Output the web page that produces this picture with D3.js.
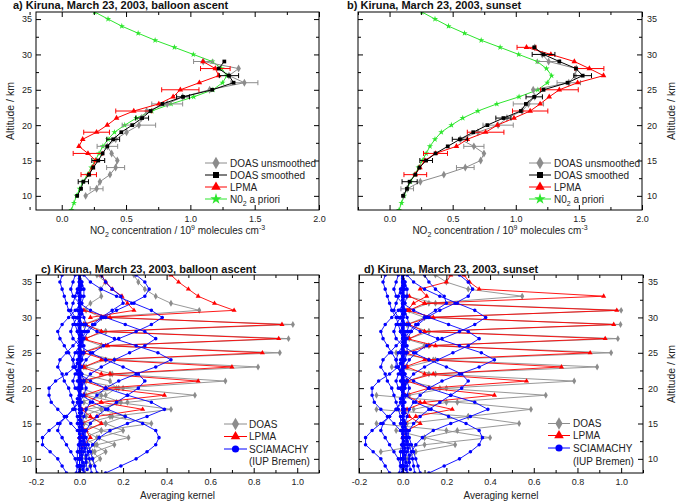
<!DOCTYPE html>
<html>
<head>
<meta charset="utf-8">
<script src="https://cdn.jsdelivr.net/npm/d3@7/dist/d3.min.js"></script>
<style>
  body { margin: 0; background: #fff; }
  svg { display: block; font-family: Arial, "Liberation Sans", Helvetica, sans-serif; }
</style>
</head>
<body>
<svg id="chart" width="682" height="501"></svg>
<script>
// ---------- profiles, panels a and b (altitude km, NO2 in 1e9 molec/cm3) ----------
const aprioriAlt = [36,35,34,33,32,31,30,29,28,27,26,25,24,23,22,21,20,19,18,17,16,15,14,13,12,11,10,9,8];
const aprioriNO2 = [0.256,0.36,0.467,0.594,0.726,0.876,1.023,1.17,1.243,1.284,1.25,1.175,1.026,0.85,0.70,0.58,0.49,0.41,0.36,0.32,0.29,0.26,0.23,0.2,0.165,0.14,0.115,0.095,0.075];

// a) balloon ascent
const altA29 = [29,28,27,26,25,24,23,22,21,20,19,18,17,16,15,14,13,12,11,10];
const smoothA = [1.264,1.22,1.30,1.336,1.17,0.943,0.783,0.69,0.625,0.548,0.463,0.40,0.354,0.318,0.284,0.245,0.212,0.168,0.15,0.12];
const smoothErrA = [0,0,0.075,0,0,0.05,0,0,0.05,0,0,0.05,0,0,0.05,0,0,0.04,0,0];
const unsmoothA = [1.10,1.375,1.30,1.42,1.15,0.94,0.82,0.66,0.62,0.60,0.504,0.42,0.355,0.388,0.432,0.419,0.375,0.297,0.271,0.186];
const unsmoothErrA = [0.075,0,0,0.105,0,0,0.12,0,0,0.13,0,0,0.08,0,0,0.07,0,0,0.05,0];
const lpmaAltA = [29,28,27,26,25,24,23,22,21,20,19,18,17,16,15,14,13];
const lpmaA = [1.098,1.194,1.22,1.07,0.922,0.866,0.755,0.56,0.426,0.354,0.271,0.163,0.134,0.204,0.264,0.24,0.21];
const lpmaErrA = [0,0.115,0,0,0.145,0,0,0.14,0,0,0.10,0,0,0.115,0,0,0.06];

// b) sunset
const altB31 = [31,30,29,28,27,26,25,24,23,22,21,20,19,18,17,16,15,14,13,12,11,10];
const smoothB = [1.146,1.22,1.345,1.477,1.53,1.41,1.22,1.146,1.08,1.04,0.902,0.775,0.663,0.557,0.461,0.364,0.29,0.236,0.204,0.159,0.138,0.107];
const smoothErrB = [0,0.09,0,0,0.07,0,0,0.065,0,0,0.06,0,0,0.06,0,0,0.05,0,0,0.06,0,0];
const unsmoothB = [1.15,1.21,1.26,1.48,1.47,1.42,1.138,1.15,1.10,1.05,0.93,0.86,0.70,0.56,0.668,0.748,0.722,0.60,0.43,0.244,0.14,0.11];
const unsmoothErrB = [0,0,0.09,0,0,0.093,0,0,0.12,0,0,0.12,0,0,0.08,0,0,0.07,0,0,0.05,0];
const lpmaAltB = [31,30,29,28,27,26,25,24,23,22,21,20,19,18,17,16,15,14,13];
const lpmaB = [1.085,1.278,1.464,1.583,1.695,1.49,1.345,1.265,1.193,1.114,0.986,0.854,0.761,0.616,0.53,0.364,0.28,0.24,0.204];
const lpmaErrB = [0.075,0,0,0.115,0,0,0.15,0,0,0.14,0,0,0.145,0,0,0.095,0,0,0.09];

// ---------- averaging kernels, panels c and d: [first altitude, values every 1 km] ----------
const doasKernC = [
  [7,[0.0,0.02,0.05,0.03,0.01]],
  [8,[0.02,0.05,0.095,0.06,0.02]],
  [9,[0.02,0.06,0.12,0.07,0.02]],
  [10,[0.01,0.07,0.16,0.08,0.02]],
  [11,[0.0,0.08,0.225,0.1,0.02]],
  [12,[0.01,0.09,0.2,0.12,0.03]],
  [13,[0.02,0.1,0.33,0.14,0.03]],
  [14,[0.0,0.12,0.21,0.1,0.02]],
  [15,[0.02,0.15,0.42,0.17,0.03]],
  [16,[0.01,0.1,0.19,0.1,0.0]],
  [17,[0.03,0.22,0.53,0.2,0.02]],
  [18,[0.0,0.12,0.17,0.14,0.01]],
  [19,[0.02,0.18,0.67,0.15,0.03]],
  [21,[0.03,0.14,0.82,0.16,0.02]],
  [23,[0.02,0.12,0.92,0.1,0.01]],
  [25,[0.01,0.1,0.96,0.12,0.02]],
  [27,[0.02,0.12,0.98,0.1,0.03]],
  [29,[0.02,0.1,0.55,0.42,0.35,0.3,0.27,0.25]],
  [31,[0.01,0.05,0.1,0.095,0.12,0.08]]
];
const lpmaKernC = [
  [11,[0.0,0.02,0.05,0.03,0.0]],
  [13,[0.0,0.03,0.1,0.05,0.01]],
  [15,[0.01,0.08,0.29,0.1,0.02]],
  [17,[0.01,0.1,0.39,0.12,0.02]],
  [19,[0.02,0.12,0.545,0.1,0.01]],
  [21,[0.01,0.14,0.70,0.12,0.02]],
  [23,[0.02,0.1,0.84,0.13,0.01]],
  [25,[0.01,0.12,0.915,0.1,0.03]],
  [27,[0.03,0.1,0.93,0.14,0.02]],
  [29,[0.02,0.12,0.71,0.62,0.545,0.5,0.455,0.42]],
  [30,[0.05,0.25,0.22,0.195,0.15,0.12,0.1]]
];
const doasKernD = [
  [10,[0.02,0.06,0.24,0.1,-0.03]],
  [11,[-0.1,0.1,0.40,0.2,-0.12]],
  [13,[0.1,0.25,0.533,0.3,-0.12]],
  [15,[0.02,0.3,0.587,0.25,-0.12]],
  [17,[0.05,0.2,0.655,0.17,0.02]],
  [19,[0.03,0.2,0.785,0.15,-0.05]],
  [21,[0.02,0.12,0.89,0.14,-0.03]],
  [23,[0.02,0.15,0.954,0.12,0.01]],
  [25,[0.01,0.1,0.985,0.12,0.02]],
  [27,[0.03,0.12,0.997,0.1,0.01]],
  [29,[0.02,0.1,1.0,0.15,0.02]],
  [31,[0.03,0.12,0.547,0.3,0.2,0.15]]
];
const lpmaKernD = [
  [13,[0.0,0.02,0.08,0.03,0.0]],
  [15,[0.01,0.06,0.227,0.08,0.01]],
  [17,[0.02,0.1,0.42,0.12,0.02]],
  [19,[0.01,0.12,0.567,0.1,0.02]],
  [21,[0.02,0.14,0.727,0.12,0.01]],
  [23,[0.01,0.1,0.858,0.15,0.02]],
  [25,[0.02,0.12,0.927,0.1,0.03]],
  [27,[0.03,0.1,0.966,0.14,0.02]],
  [29,[0.02,0.12,0.98,0.1,0.03]],
  [31,[0.03,0.1,0.92,0.35,0.306,0.28]],
  [31,[0.02,0.05,0.11,0.08,0.2,0.22]]
];
// SCIAMACHY (IUP Bremen) kernels, same set shown in c and d
const sciaKern = [
  [8,[-0.06,-0.08,-0.10,-0.135,-0.17,-0.17,-0.14,-0.10,-0.06,-0.03,-0.01,0.00,0.01,0.01,0.00,0.00,-0.01,0.00,0.00,0.01,0.00,0.00,0.00,0.00,0.00,0.00,0.00,0.00,0.00]],
  [8,[0.12,0.19,0.26,0.31,0.35,0.365,0.35,0.29,0.21,0.13,0.06,0.01,-0.02,-0.03,-0.02,0.00,0.01,0.01,0.00,0.00,0.00,0.00,0.00,0.00,0.00,0.00,0.00,0.00,0.00]],
  [8,[0.02,0.02,0.03,0.04,0.06,0.09,0.14,0.22,0.31,0.39,0.33,0.22,0.12,0.05,0.00,-0.03,-0.03,-0.02,0.00,0.01,0.01,0.00,0.00,0.01,0.00,0.00,0.00,0.00,0.00]],
  [8,[0.00,0.01,0.01,0.02,0.02,0.01,-0.01,-0.04,-0.07,-0.10,-0.13,-0.14,-0.14,-0.11,-0.06,-0.02,0.01,0.02,0.02,0.01,0.00,0.00,0.00,-0.01,0.00,0.00,0.00,0.00,0.00]],
  [8,[0.00,-0.01,-0.02,-0.04,-0.06,-0.08,-0.10,-0.09,-0.06,-0.03,0.00,0.02,0.03,0.02,0.01,0.00,0.00,-0.01,0.00,0.00,0.00,0.01,0.00,0.00,0.00,0.00,0.00,0.00,0.00]],
  [8,[0.00,0.00,0.00,0.01,0.01,0.02,0.03,0.05,0.08,0.12,0.17,0.22,0.27,0.30,0.27,0.20,0.12,0.05,0.00,-0.03,-0.04,-0.03,-0.01,0.00,0.00,0.00,0.01,0.00,0.00]],
  [8,[0.00,0.00,0.00,0.00,0.00,0.00,0.01,0.01,0.02,0.03,0.05,0.08,0.12,0.18,0.26,0.35,0.42,0.36,0.26,0.16,0.08,0.02,-0.02,-0.04,-0.03,-0.02,-0.01,0.00,0.00]],
  [8,[0.00,0.00,0.00,0.00,0.00,0.00,0.00,-0.01,-0.01,-0.02,-0.03,-0.04,-0.05,-0.07,-0.08,-0.10,-0.09,-0.06,-0.03,0.00,0.02,0.03,0.02,0.01,0.00,0.00,0.00,0.00,0.00]],
  [8,[0.00,0.00,0.00,0.00,0.00,0.00,0.00,0.00,0.00,0.00,0.00,0.00,0.01,0.02,0.05,0.10,0.16,0.23,0.30,0.35,0.30,0.21,0.12,0.05,0.00,-0.03,-0.04,-0.03,-0.02]],
  [8,[0.00,0.00,0.00,0.00,0.00,0.00,0.00,0.00,0.00,0.00,0.00,0.00,0.00,0.00,-0.01,-0.02,-0.03,-0.05,-0.07,-0.09,-0.10,-0.08,-0.05,-0.02,0.01,0.02,0.02,0.01,0.00]],
  [8,[0.00,0.00,0.00,0.00,0.00,0.00,0.00,0.00,0.00,0.00,0.00,0.00,0.00,0.00,0.00,0.01,0.03,0.06,0.11,0.18,0.26,0.33,0.38,0.33,0.25,0.17,0.10,0.05,0.02]],
  [8,[0.00,0.00,0.00,0.00,0.00,0.00,0.00,0.00,0.00,0.00,0.00,0.00,0.00,0.00,0.00,0.00,0.00,0.00,0.01,0.02,0.04,0.07,0.11,0.17,0.24,0.30,0.32,0.30,0.26]],
  [8,[0.00,0.00,0.00,0.00,0.00,0.00,0.00,0.00,0.00,0.00,0.00,0.00,0.00,0.00,0.00,0.00,0.00,0.00,0.00,0.00,-0.01,-0.02,-0.03,-0.05,-0.06,-0.07,-0.08,-0.09,-0.08]],
  [8,[0.00,0.00,0.00,0.00,0.00,0.00,0.00,0.00,0.00,0.00,0.00,0.00,0.00,0.00,0.00,0.00,0.00,0.00,0.00,0.01,0.03,0.06,0.10,0.15,0.20,0.19,0.15,0.12,0.10]],
  [8,[0.08,0.07,0.06,0.05,0.04,0.03,0.02,0.01,0.00,0.00,0.01,0.00,0.00,0.00,0.01,0.00,0.00,0.00,0.00,0.01,0.00,0.00,0.00,0.00,0.00,0.01,0.00,0.00,0.00]],
  [8,[0.055,0.05,0.045,0.04,0.03,0.02,0.015,0.01,0.00,0.01,0.00,0.00,-0.01,0.00,0.00,0.00,0.01,0.00,0.00,0.00,0.00,-0.01,0.00,0.00,0.00,0.00,0.00,0.01,0.00]],
  [8.5,[0.035,0.03,0.03,0.025,0.02,0.015,0.01,0.005,0.00,0.00,-0.01,0.00,0.01,0.00,0.00,-0.01,0.00,0.00,0.01,0.00,0.00,0.00,0.01,0.00,0.00,-0.01,0.00,0.00]],
  [8,[-0.015,-0.01,-0.01,-0.01,-0.005,0.00,0.00,0.01,0.00,0.00,0.00,0.01,0.00,-0.01,0.00,0.00,0.00,0.01,0.00,0.00,-0.01,0.00,0.00,0.00,0.01,0.00,0.00,0.00,0.00]],
  [8.5,[0.015,0.015,0.01,0.01,0.005,0.00,0.00,0.00,0.01,0.00,0.00,0.00,0.00,0.00,-0.01,0.00,0.00,0.00,0.00,0.01,0.00,0.00,0.00,0.00,0.00,0.00,0.01,0.00]]
];

const altTicks = [10,15,20,25,30,35];
const altMinor = [12.5,17.5,22.5,27.5,32.5];
const concTicks = [0.0,0.5,1.0,1.5,2.0];
const concMinor = [-0.25,0.25,0.75,1.25,1.75];
const akTicks = [-0.2,0.0,0.2,0.4,0.6,0.8,1.0];
const akMinor = [-0.1,0.1,0.3,0.5,0.7,0.9,1.1];

const GRAY = "#8c8c8c", RED = "#ff0000", GREEN = "#2ee62e", BLUE = "#0000ff";

const svg = d3.select("#chart");

const panels = [
  {key:"a", l:36, r:319, t:12, b:210, xd:[-0.2,2.0], side:"left", title:"a) Kiruna, March 23, 2003, balloon ascent", tx:13, ty:9},
  {key:"b", l:358, r:642, t:12, b:210, xd:[-0.25,2.0], side:"right", title:"b) Kiruna, March 23, 2003, sunset", tx:347, ty:9},
  {key:"c", l:36, r:319, t:275, b:473, xd:[-0.2,1.1], side:"left", title:"c) Kiruna, March 23, 2003, balloon ascent", tx:41, ty:272.5},
  {key:"d", l:359, r:643, t:275, b:473, xd:[-0.2,1.1], side:"right", title:"d) Kiruna, March 23, 2003, sunset", tx:364, ty:272.5}
];

function styleAxis(g) {
  g.select(".domain").remove();
  g.selectAll(".tick line").attr("stroke", "#000");
  g.selectAll(".tick text").attr("font-size", 9).attr("fill", "#222").attr("font-family", null);
}

function drawAxes(p, x, y, major, minor) {
  const fmt = d => d.toFixed(1);
  const g = svg.append("g");
  // bottom
  g.append("g").attr("transform", `translate(0,${p.b})`)
    .call(d3.axisBottom(x).tickValues(major).tickSize(-5).tickPadding(6).tickFormat(fmt)).call(styleAxis);
  g.append("g").attr("transform", `translate(0,${p.b})`)
    .call(d3.axisBottom(x).tickValues(minor).tickSize(-3).tickFormat("")).call(styleAxis);
  // top
  g.append("g").attr("transform", `translate(0,${p.t})`)
    .call(d3.axisTop(x).tickValues(major).tickSize(-5).tickFormat("")).call(styleAxis);
  g.append("g").attr("transform", `translate(0,${p.t})`)
    .call(d3.axisTop(x).tickValues(minor).tickSize(-3).tickFormat("")).call(styleAxis);
  // left & right
  const lab = d3.format("d");
  g.append("g").attr("transform", `translate(${p.l},0)`)
    .call(d3.axisLeft(y).tickValues(altTicks).tickSize(-5).tickPadding(4).tickFormat(p.side === "left" ? lab : "")).call(styleAxis);
  g.append("g").attr("transform", `translate(${p.l},0)`)
    .call(d3.axisLeft(y).tickValues(altMinor).tickSize(-3).tickFormat("")).call(styleAxis);
  g.append("g").attr("transform", `translate(${p.r},0)`)
    .call(d3.axisRight(y).tickValues(altTicks).tickSize(-5).tickPadding(5).tickFormat(p.side === "right" ? lab : "")).call(styleAxis);
  g.append("g").attr("transform", `translate(${p.r},0)`)
    .call(d3.axisRight(y).tickValues(altMinor).tickSize(-3).tickFormat("")).call(styleAxis);
  g.append("rect").attr("x", p.l).attr("y", p.t).attr("width", p.r - p.l).attr("height", p.b - p.t)
    .attr("fill", "none").attr("stroke", "#000").attr("stroke-width", 1);

  // titles
  svg.append("text").attr("x", p.tx).attr("y", p.ty).attr("font-size", 11).attr("font-weight", "bold")
    .attr("fill", "#111").text(p.title);
  const ax = p.side === "left" ? 14 : 675;
  svg.append("text").attr("transform", `translate(${ax},${(p.t + p.b) / 2}) rotate(-90)`)
    .attr("text-anchor", "middle").attr("font-size", 10.5).attr("fill", "#222").text("Altitude / km");
}

function plotArea(p) {
  svg.append("clipPath").attr("id", "clip" + p.key)
    .append("rect").attr("x", p.l).attr("y", p.t).attr("width", p.r - p.l).attr("height", p.b - p.t);
  return svg.append("g").attr("clip-path", `url(#clip${p.key})`);
}

function profile(g, x, y, alts, vals, errs, color, sym, size) {
  const pts = alts.map((a, i) => [vals[i], a, errs ? errs[i] : 0]);
  const line = d3.line().x(d => x(d[0])).y(d => y(d[1]));
  g.append("path").datum(pts).attr("d", line).attr("fill", "none").attr("stroke", color).attr("stroke-width", 1);
  pts.filter(d => d[2] > 0).forEach(d => {
    const yy = y(d[1]), xa = x(d[0] - d[2]), xb = x(d[0] + d[2]);
    g.append("path").attr("d", `M${xa},${yy}H${xb}M${xa},${yy - 2.5}V${yy + 2.5}M${xb},${yy - 2.5}V${yy + 2.5}`)
      .attr("stroke", color).attr("stroke-width", 1).attr("fill", "none");
  });
  g.selectAll(null).data(pts).join("path")
    .attr("d", d3.symbol(sym, size)())
    .attr("transform", d => `translate(${x(d[0])},${y(d[1])})`)
    .attr("fill", color);
}

function kernels(g, x, y, set, color, sym, size) {
  const line = d3.line().x(d => x(d[0])).y(d => y(d[1]));
  set.forEach(([z, v]) => {
    const pts = v.map((k, i) => [k, z + i]);
    g.append("path").datum(pts).attr("d", line).attr("fill", "none").attr("stroke", color).attr("stroke-width", 0.9);
    g.selectAll(null).data(pts).join("path")
      .attr("d", d3.symbol(sym, size)())
      .attr("transform", d => `translate(${x(d[0])},${y(d[1])})`)
      .attr("fill", color);
  });
}

function legend(items, x0, x1, tx, ys) {
  const g = svg.append("g");
  items.forEach((it, i) => {
    const yy = ys[i];
    g.append("line").attr("x1", x0).attr("x2", x1).attr("y1", yy).attr("y2", yy).attr("stroke", it.color).attr("stroke-width", 1);
    g.append("path").attr("d", d3.symbol(it.sym, it.size)()).attr("transform", `translate(${(x0 + x1) / 2},${yy})`).attr("fill", it.color);
    const t = g.append("text").attr("x", tx).attr("y", yy).attr("dy", "0.35em").attr("font-size", 10).attr("fill", "#222");
    it.label(t);
  });
  return g;
}

function concTitle(cx) {
  const t = svg.append("text").attr("x", cx).attr("y", 234).attr("text-anchor", "middle").attr("font-size", 10).attr("fill", "#222");
  t.append("tspan").text("NO");
  t.append("tspan").attr("dy", 3).attr("font-size", 7).text("2");
  t.append("tspan").attr("dy", -3).text(" concentration / 10");
  t.append("tspan").attr("dy", -4).attr("font-size", 7).text("9");
  t.append("tspan").attr("dy", 4).text(" molecules cm");
  t.append("tspan").attr("dy", -4).attr("font-size", 7).text("-3");
}

// ---------- panels a, b ----------
const profLegend = [
  {color: GRAY, sym: d3.symbolDiamond, size: 45, label: t => t.text("DOAS unsmoothed")},
  {color: "#000", sym: d3.symbolSquare, size: 36, label: t => t.text("DOAS smoothed")},
  {color: RED, sym: d3.symbolTriangle, size: 40, label: t => t.text("LPMA")},
  {color: GREEN, sym: d3.symbolStar, size: 40, label: t => {
    t.append("tspan").text("N0");
    t.append("tspan").attr("dy", 3).attr("font-size", 7).text("2");
    t.append("tspan").attr("dy", -3).text(" a priori");
  }}
];

[
  [panels[0], unsmoothA, unsmoothErrA, altA29, smoothA, smoothErrA, altA29, lpmaA, lpmaErrA, lpmaAltA],
  [panels[1], unsmoothB, unsmoothErrB, altB31, smoothB, smoothErrB, altB31, lpmaB, lpmaErrB, lpmaAltB]
].forEach(([p, un, unE, unAlt, sm, smE, smAlt, lp, lpE, lpAlt]) => {
  const x = d3.scaleLinear().domain(p.xd).range([p.l, p.r]);
  const y = d3.scaleLinear().domain([8, 36]).range([p.b, p.t]);
  const g = plotArea(p);
  profile(g, x, y, aprioriAlt, aprioriNO2, null, GREEN, d3.symbolStar, 12);
  profile(g, x, y, unAlt, un, unE, GRAY, d3.symbolDiamond, 18);
  profile(g, x, y, lpAlt, lp, lpE, RED, d3.symbolTriangle, 14);
  profile(g, x, y, smAlt, sm, smE, "#000", d3.symbolSquare, 14);
  drawAxes(p, x, y, concTicks, concMinor);
  concTitle((p.l + p.r) / 2);
});
legend(profLegend, 205, 227, 230, [163, 175, 187, 199]);
legend(profLegend, 529, 551, 554, [163, 175, 187, 199]);

// ---------- panels c, d ----------
const akLegend = [
  {color: GRAY, sym: d3.symbolDiamond, size: 45, label: t => t.text("DOAS")},
  {color: RED, sym: d3.symbolTriangle, size: 40, label: t => t.text("LPMA")},
  {color: BLUE, sym: d3.symbolCircle, size: 40, label: t => t.text("SCIAMACHY")}
];

[
  [panels[2], doasKernC, lpmaKernC],
  [panels[3], doasKernD, lpmaKernD]
].forEach(([p, dk, lk]) => {
  const x = d3.scaleLinear().domain(p.xd).range([p.l, p.r]);
  const y = d3.scaleLinear().domain([8, 36]).range([p.b, p.t]);
  const g = plotArea(p);
  kernels(g, x, y, dk, GRAY, d3.symbolDiamond, 14);
  kernels(g, x, y, lk, RED, d3.symbolTriangle, 11);
  kernels(g, x, y, sciaKern, BLUE, d3.symbolCircle, 10);
  drawAxes(p, x, y, akTicks, akMinor);
  svg.append("text").attr("x", (p.l + p.r) / 2).attr("y", 498.5).attr("text-anchor", "middle")
    .attr("font-size", 10).attr("fill", "#222").text("Averaging kernel");
});
legend(akLegend, 224, 247, 249, [424, 436.5, 449]);
svg.append("text").attr("x", 249).attr("y", 461.5).attr("dy", "0.35em").attr("font-size", 10).attr("fill", "#222").text("(IUP Bremen)");
legend(akLegend, 548, 570, 573, [423.5, 435.5, 448]);
svg.append("text").attr("x", 573).attr("y", 461).attr("dy", "0.35em").attr("font-size", 10).attr("fill", "#222").text("(IUP Bremen)");
</script>
</body>
</html>
